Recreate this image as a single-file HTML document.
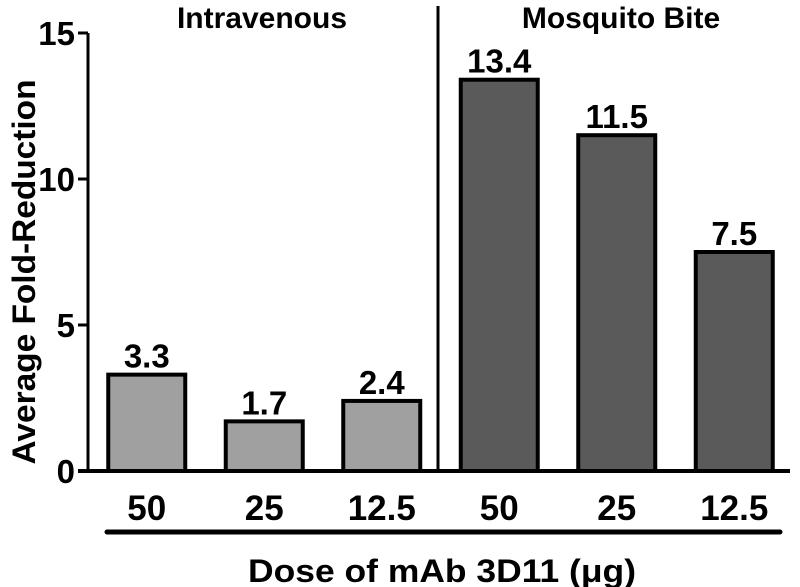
<!DOCTYPE html>
<html><head><meta charset="utf-8"><style>
html,body{margin:0;padding:0;background:#fff}
svg{display:block;font-family:"Liberation Sans",Arial,sans-serif;font-weight:bold}
</style></head><body>
<svg id="chart" width="800" height="587" viewBox="0 0 800 587">
<g id="axes"></g><g id="bars"></g><g id="labels"></g>
</svg>
<script>
const categories = ["50","25","12.5","50","25","12.5"];
const groups = ["iv","iv","iv","bite","bite","bite"];
const values = [3.3,1.7,2.4,13.4,11.5,7.5];
const valueLabels = ["3.3","1.7","2.4","13.4","11.5","7.5"];
const yTicks = [0,5,10,15];
const groupTitles = ["Intravenous","Mosquito Bite"];

const NS="http://www.w3.org/2000/svg";
const y0=471, yTop=33, yMax=15;
const y=v=>y0-(v/yMax)*(y0-yTop);
const slot=117.5, xStart=88;
const xc=i=>xStart+slot*(i+0.5);
function mk(tag,attrs,parent,text){const e=document.createElementNS(NS,tag);for(const k in attrs)e.setAttribute(k,attrs[k]);if(text!==undefined)e.textContent=text;parent.appendChild(e);return e;}
const axes=document.getElementById('axes'),bars=document.getElementById('bars'),labels=document.getElementById('labels');

let a=mk('line',{x1:88,y1:yTop,x2:88,y2:y0+2,stroke:'#000','stroke-width':3},axes);


let b=mk('line',{x1:78,y1:y0,x2:790,y2:y0,stroke:'#000','stroke-width':4},axes);


yTicks.forEach(t=>{
  let l=mk('line',{x1:78,y1:y(t),x2:88,y2:y(t),stroke:'#000','stroke-width':3},axes);
  
  
  let tx=mk('text',{x:75,y:y(t)+12,'text-anchor':'end','font-size':33},axes,String(t));
  
  
});
let d=mk('line',{x1:438,y1:6,x2:438,y2:y0,stroke:'#000','stroke-width':3},axes);



values.forEach((v,i)=>{
  const w=77, x=xc(i)-w/2;
  let r=mk('rect',{x:x,y:y(v),width:w,height:y0-y(v),fill:groups[i]==='iv'?'#a0a0a0':'#5a5a5a',stroke:'#000','stroke-width':4},bars);
  
  
  let vl=mk('text',{x:xc(i),y:y(v)-7,'text-anchor':'middle','font-size':33},labels,valueLabels[i]);
  
  
  let cl=mk('text',{x:xc(i),y:520,'text-anchor':'middle','font-size':35},labels,categories[i]);
  
  
});
let h=mk('line',{x1:107,y1:532,x2:780,y2:532,stroke:'#000','stroke-width':5,'stroke-linecap':'round'},axes);


[262,621].forEach((cx,i)=>{
  let g=mk('text',{x:cx,y:28,'text-anchor':'middle','font-size':30},labels,groupTitles[i]);
  
  
});
let xt=mk('text',{x:442,y:582,'text-anchor':'middle','font-size':32,textLength:388,lengthAdjust:'spacingAndGlyphs'},labels,'Dose of mAb 3D11 (μg)');


let yt=mk('text',{x:0,y:0,'text-anchor':'middle','font-size':32,textLength:385,lengthAdjust:'spacingAndGlyphs',transform:'translate(35,272) rotate(-90)'},labels,'Average Fold-Reduction');


</script>
</body></html>
